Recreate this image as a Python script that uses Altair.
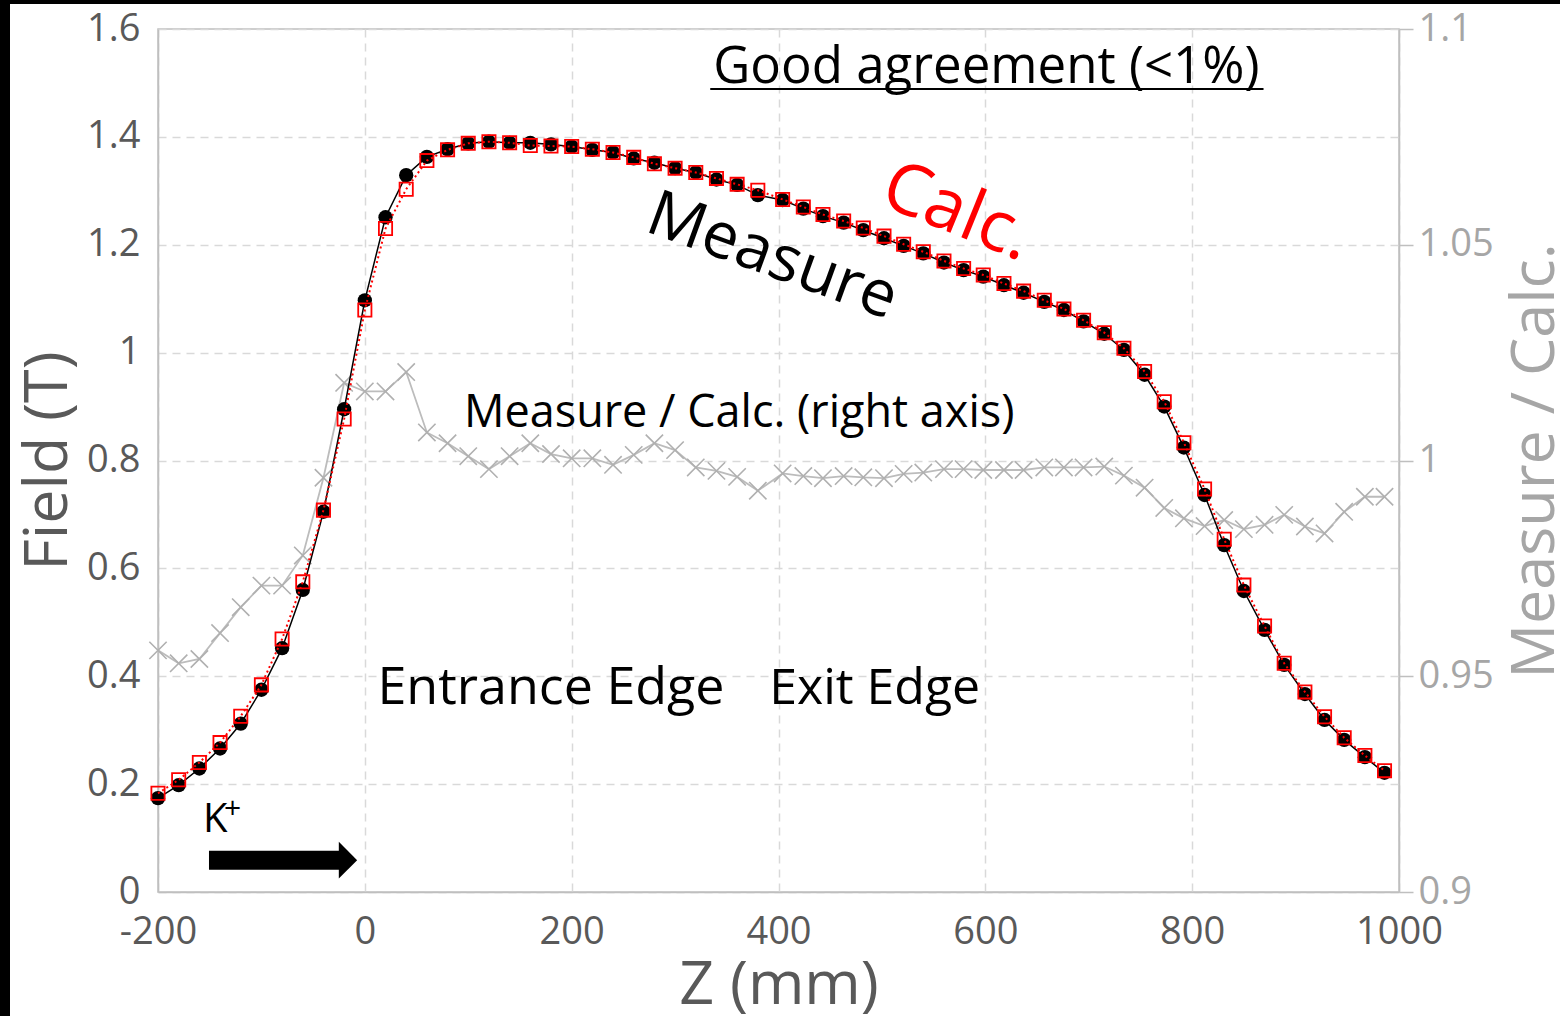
import altair as alt
import pandas as pd

# ---------------- data ----------------
z_mm = [-200, -180, -160, -140, -120, -100, -80, -60, -40, -20,
        0, 20, 40, 60, 80, 100, 120, 140, 160, 180,
        200, 220, 240, 260, 280, 300, 320, 340, 360, 380,
        404, 424, 443, 463, 482, 502, 521, 540, 560, 579,
        598, 618, 637, 657, 676, 695, 715, 734, 754, 773,
        792, 812, 831, 850, 870, 889, 909, 928, 947, 967, 986]
measure_T = [0.174, 0.198, 0.229, 0.266, 0.312, 0.375, 0.452, 0.560, 0.705, 0.895,
             1.097, 1.251, 1.329, 1.363, 1.377, 1.388, 1.391, 1.389, 1.389, 1.386,
             1.382, 1.376, 1.371, 1.360, 1.352, 1.342, 1.334, 1.321, 1.311, 1.292,
             1.283, 1.267, 1.253, 1.241, 1.227, 1.212, 1.198, 1.184, 1.167, 1.153,
             1.141, 1.125, 1.111, 1.094, 1.079, 1.058, 1.035, 1.005, 0.959, 0.900,
             0.824, 0.736, 0.643, 0.558, 0.486, 0.421, 0.367, 0.319, 0.282, 0.250, 0.221]
calc_T = [0.183, 0.208, 0.240, 0.277, 0.326, 0.384, 0.469, 0.575, 0.708, 0.877,
          1.079, 1.230, 1.303, 1.356, 1.376, 1.388, 1.391, 1.389, 1.384, 1.383,
          1.382, 1.377, 1.371, 1.362, 1.350, 1.342, 1.334, 1.323, 1.312, 1.301,
          1.284, 1.270, 1.256, 1.244, 1.231, 1.216, 1.201, 1.187, 1.170, 1.156,
          1.144, 1.128, 1.114, 1.097, 1.081, 1.060, 1.037, 1.008, 0.965, 0.909,
          0.833, 0.747, 0.654, 0.569, 0.493, 0.424, 0.371, 0.325, 0.286, 0.253, 0.225]
ratio = [0.956, 0.953, 0.954, 0.960, 0.966, 0.971, 0.971, 0.978, 0.996, 1.018,
         1.016, 1.016, 1.0205, 1.0065, 1.004, 1.001, 0.998, 1.001, 1.004, 1.0015,
         1.0005, 1.0005, 0.999, 1.0013, 1.004, 1.0024, 0.9984, 0.9976, 0.9962, 0.993,
         0.997, 0.9964, 0.9959, 0.9964, 0.9961, 0.9959, 0.9969, 0.9972, 0.998, 0.998,
         0.9978, 0.9978, 0.9978, 0.9984, 0.9984, 0.9984, 0.9986, 0.9965, 0.9937, 0.989,
         0.9866, 0.9848, 0.9862, 0.9841, 0.9851, 0.9874, 0.9847, 0.9831, 0.9881, 0.9916, 0.9916]

x_ticks = [-200, 0, 200, 400, 600, 800, 1000]
y_ticks = [0, 0.2, 0.4, 0.6, 0.8, 1, 1.2, 1.4, 1.6]
r_ticks = [0.9, 0.95, 1, 1.05, 1.1]

# annotation texts and their anchor positions (data coordinates)
headline = ["Good agreement (<1%)"]
headline_z = [601]
headline_v = [1.4998]
underline_z = [334]
underline_z2 = [869]
underline_v = [1.4887]
ratio_note = ["Measure / Calc. (right axis)"]
ratio_note_z = [362]
ratio_note_v = [0.862]
edge_labels = ["Entrance Edge", "Exit Edge"]
edge_z = [180, 493]
edge_v = [0.3485, 0.3485]
edge_sizes = [52, 50]
measure_lbl_z, measure_lbl_v = [394], [1.177]
calc_lbl_z, calc_lbl_v = [573], [1.259]
k_z, k_v = [-156.5], [0.1112]
plus_z, plus_v = [-128], [0.153]
arrow_z, arrow_z2, arrow_v = [-150.7], [-22], [0.059]
head_z, head_v = [-16.3], [0.059]

df = pd.DataFrame({"z": z_mm, "measure": measure_T, "calc": calc_T, "ratio": ratio})

FONT = "Open Sans"
GRID = "#d9d9d9"
FRAME = "#bfbfbf"
DARK = "#595959"
LIGHT = "#a6a6a6"

x_scale = alt.Scale(domain=[-200, 1000], nice=False, zero=False)
y_scale = alt.Scale(domain=[0, 1.6], nice=False, zero=False)
r_scale = alt.Scale(domain=[0.9, 1.1], nice=False, zero=False)

x_axis = alt.Axis(values=x_ticks, labelExpr="'' + datum.value", title="Z (mm)",
                  grid=True, gridColor=GRID, gridDash=[8, 6], gridWidth=1.5,
                  domainColor=FRAME, domainWidth=1.5, ticks=False, tickSize=0,
                  labelFont=FONT, labelFontSize=38, labelColor=DARK, labelPadding=51,
                  labelBaseline="alphabetic", labelFlush=False, labelOverlap=False,
                  titleFont=FONT, titleFontSize=61, titleColor=DARK, titleFontWeight="normal",
                  titleX=620.5, titleY=111, titleBaseline="alphabetic", titleAlign="center")
y_axis = alt.Axis(orient="left", values=y_ticks, format="~g", title="Field (T)",
                  grid=True, gridColor=GRID, gridDash=[8, 6], gridWidth=1.5,
                  domainColor=FRAME, domainWidth=1.5, ticks=False, tickSize=0,
                  labelFont=FONT, labelFontSize=38, labelColor=DARK, labelPadding=18,
                  labelBaseline="middle", labelAlign="right", labelFlush=False, labelOverlap=False,
                  titleFont=FONT, titleFontSize=61, titleColor=DARK, titleFontWeight="normal",
                  titleAngle=270, titleX=-92, titleY=431.5, titleBaseline="alphabetic",
                  titleAlign="center")
r_axis = alt.Axis(orient="right", values=r_ticks, format="~g", title="Measure / Calc.",
                  grid=False, domainColor=FRAME, domainWidth=1.5,
                  ticks=True, tickSize=14, tickColor=FRAME, tickWidth=1.5,
                  labelFont=FONT, labelFontSize=38, labelColor=LIGHT, labelPadding=5,
                  labelBaseline="middle", labelAlign="left", labelFlush=False, labelOverlap=False,
                  titleFont=FONT, titleFontSize=61, titleColor=LIGHT, titleFontWeight="normal",
                  titleAngle=270, titleX=154, titleY=431.5, titleBaseline="alphabetic",
                  titleAlign="center")


def X(field="z"):
    return alt.X(f"{field}:Q", scale=x_scale, axis=x_axis)


def Y(field):
    return alt.Y(f"{field}:Q", scale=y_scale, axis=y_axis)


def R(field):
    return alt.Y(f"{field}:Q", scale=r_scale, axis=r_axis)


base = alt.Chart(df)

# ratio (right axis)
ratio_line = base.mark_line(color="#bcbcbc", strokeWidth=1.8).encode(x=X(), y=R("ratio"))
ratio_pts = base.mark_point(shape="M-1,-1L1,1M-1,1L1,-1", size=300, color="#b0b0b0",
                            strokeWidth=1.6, filled=False, opacity=1).encode(x=X(), y=R("ratio"))
right_group = alt.layer(ratio_line, ratio_pts)

# measure / calc (left axis)
meas_line = base.mark_line(color="black", strokeWidth=1.5).encode(x=X(), y=Y("measure"))
meas_pts = base.mark_point(shape="circle", filled=True, size=205, color="black",
                           opacity=1).encode(x=X(), y=Y("measure"))
calc_line = base.mark_line(color="#ff0000", strokeWidth=2, strokeDash=[2, 3]).encode(
    x=X(), y=Y("calc"))
calc_pts = base.mark_point(shape="square", filled=False, size=175, color="#ff0000",
                           strokeWidth=1.8, opacity=1).encode(x=X(), y=Y("calc"))

# annotations
head_df = pd.DataFrame({"z": headline_z, "v": headline_v, "t": headline})
head_txt = alt.Chart(head_df).mark_text(font=FONT, fontSize=51, color="black",
                                        align="center", baseline="alphabetic").encode(
    x=X(), y=Y("v"), text="t:N")
ul_df = pd.DataFrame({"z": underline_z, "z2": underline_z2, "v": underline_v})
ul = alt.Chart(ul_df).mark_rule(color="black", strokeWidth=2).encode(
    x=X(), x2="z2:Q", y=Y("v"))

rn_df = pd.DataFrame({"z": ratio_note_z, "v": ratio_note_v, "t": ratio_note})
rn_txt = alt.Chart(rn_df).mark_text(font=FONT, fontSize=45, color="black",
                                    align="center", baseline="alphabetic").encode(
    x=X(), y=Y("v"), text="t:N")

edge_df = pd.DataFrame({"z": edge_z, "v": edge_v, "t": edge_labels, "s": edge_sizes})
edge_txt = alt.Chart(edge_df).mark_text(font=FONT, color="black",
                                        align="center", baseline="alphabetic").encode(
    x=X(), y=Y("v"), text="t:N", size=alt.Size("s:Q", scale=None, legend=None))

ml_df = pd.DataFrame({"z": measure_lbl_z, "v": measure_lbl_v, "t": ["Measure"]})
ml_txt = alt.Chart(ml_df).mark_text(font=FONT, fontSize=64, color="black", angle=20,
                                    align="center", baseline="middle").encode(
    x=X(), y=Y("v"), text="t:N")

cl_df = pd.DataFrame({"z": calc_lbl_z, "v": calc_lbl_v, "t": ["Calc."]})
cl_txt = alt.Chart(cl_df).mark_text(font=FONT, fontSize=71, color="#ff0000", angle=22,
                                    align="center", baseline="middle").encode(
    x=X(), y=Y("v"), text="t:N")

k_df = pd.DataFrame({"z": k_z, "v": k_v, "t": ["K"]})
k_txt = alt.Chart(k_df).mark_text(font=FONT, fontSize=40, color="black",
                                  align="left", baseline="alphabetic").encode(
    x=X(), y=Y("v"), text="t:N")
p_df = pd.DataFrame({"z": plus_z, "v": plus_v, "t": ["+"]})
p_txt = alt.Chart(p_df).mark_text(font=FONT, fontSize=30, color="black",
                                  align="center", baseline="middle").encode(
    x=X(), y=Y("v"), text="t:N")

ar_df = pd.DataFrame({"z": arrow_z, "z2": arrow_z2, "v": arrow_v})
arrow_shaft = alt.Chart(ar_df).mark_rule(color="black", strokeWidth=19, strokeCap="butt").encode(
    x=X(), x2="z2:Q", y=Y("v"))
ah_df = pd.DataFrame({"z": head_z, "v": head_v})
arrow_head = alt.Chart(ah_df).mark_point(shape="M-0.5,-1L0.5,0L-0.5,1Z", size=1340,
                                         filled=True, color="black", opacity=1).encode(
    x=X(), y=Y("v"))

# black frame strips at the picture's left and top edges
strip_df = pd.DataFrame({"k": [0]})
left_strip = alt.Chart(strip_df).mark_rect(color="black").encode(
    x=alt.value(-158), x2=alt.value(-148), y=alt.value(-29), y2=alt.value(987))
top_strip = alt.Chart(strip_df).mark_rect(color="black").encode(
    x=alt.value(-158), x2=alt.value(1402), y=alt.value(-29), y2=alt.value(-25))

left_group = alt.layer(meas_line, meas_pts, calc_line, calc_pts,
                       head_txt, ul, rn_txt, edge_txt, ml_txt, cl_txt,
                       k_txt, p_txt, arrow_shaft, arrow_head)

chart = alt.layer(right_group, left_group, left_strip, top_strip).resolve_scale(
    y="independent"
).properties(
    width=1241, height=863,
    padding={"left": 158, "top": 29, "right": 161, "bottom": 124},
    autosize=alt.AutoSizeParams(type="none"),
    background="white",
).configure_view(stroke=FRAME, strokeWidth=1.5)

chart.save("out.html", embed_options={"renderer": "svg", "actions": False})
